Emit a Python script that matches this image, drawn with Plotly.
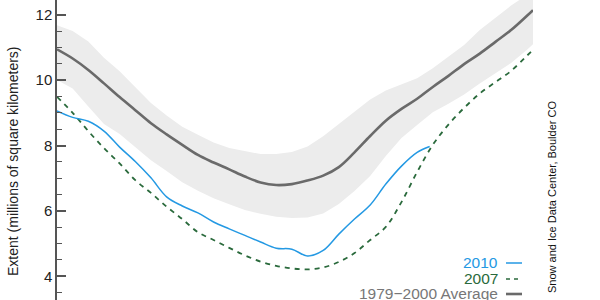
import plotly.graph_objects as go

# Days since July 1 (x positions)
days = [0, 5, 10, 15, 20, 25, 30, 35, 40, 45, 50, 55, 60, 65, 70, 75, 80, 85, 90,
        95, 100, 105, 110, 115, 120, 125, 130, 135, 140, 145, 150, 152]

# 1979-2000 average extent and its shaded range (millions of km²)
avg = [10.94, 10.66, 10.31, 9.90, 9.48, 9.08, 8.68, 8.34, 8.02, 7.71, 7.48, 7.27,
       7.05, 6.87, 6.79, 6.82, 6.93, 7.08, 7.34, 7.79, 8.29, 8.76, 9.12, 9.43,
       9.79, 10.13, 10.49, 10.81, 11.17, 11.53, 11.96, 12.14]
band_upper = [11.68, 11.50, 11.18, 10.68, 10.27, 9.79, 9.30, 8.92, 8.57, 8.33, 8.09,
              7.92, 7.83, 7.74, 7.74, 7.80, 7.97, 8.28, 8.66, 9.04, 9.41, 9.68, 9.87,
              10.06, 10.36, 10.71, 11.07, 11.53, 11.91, 12.28, 12.60, 12.72]
band_lower = [10.00, 9.74, 9.19, 8.66, 8.35, 7.96, 7.55, 7.22, 6.88, 6.62, 6.39, 6.20,
              6.03, 5.91, 5.82, 5.78, 5.80, 5.92, 6.21, 6.61, 7.07, 7.68, 8.23, 8.63,
              9.02, 9.28, 9.56, 9.90, 10.20, 10.52, 10.92, 11.10]

# 2007
y2007 = [9.49, 9.00, 8.44, 7.92, 7.45, 6.94, 6.55, 6.13, 5.75, 5.35, 5.11, 4.87,
         4.64, 4.45, 4.32, 4.24, 4.21, 4.27, 4.44, 4.71, 5.11, 5.51, 6.27, 7.19,
         8.02, 8.64, 9.15, 9.59, 9.94, 10.28, 10.74, 10.92]

# 2010 (ends late October)
days2010 = [0, 5, 10, 15, 20, 25, 30, 35, 40, 45, 50, 55, 60, 65, 70, 75, 80, 85,
            90, 95, 100, 105, 110, 115, 119]
y2010 = [9.06, 8.86, 8.74, 8.44, 7.95, 7.51, 7.01, 6.43, 6.15, 5.94, 5.66, 5.45,
         5.25, 5.05, 4.86, 4.83, 4.62, 4.79, 5.29, 5.75, 6.18, 6.82, 7.37, 7.79, 7.97]

y_ticks = [4, 6, 8, 10, 12]

BLUE = "#2499e3"
GREEN = "#2a6a3c"
GRAY = "#6a6a6a"
BAND = "#ececec"
FONT = "Liberation Sans, Arial, Helvetica, sans-serif"

fig = go.Figure()
fig.add_trace(go.Scatter(x=days, y=band_lower, mode="lines", line=dict(width=0, color=BAND),
                         showlegend=False, hoverinfo="skip"))
fig.add_trace(go.Scatter(x=days, y=band_upper, mode="lines", line=dict(width=0, color=BAND),
                         fill="tonexty", fillcolor=BAND, showlegend=False, hoverinfo="skip"))
fig.add_trace(go.Scatter(x=days, y=avg, mode="lines", line=dict(color=GRAY, width=2.6, shape="spline"),
                         name="1979-2000 Average"))
fig.add_trace(go.Scatter(x=days, y=y2007, mode="lines",
                         line=dict(color=GREEN, width=1.8, dash="5px,5px", shape="spline"),
                         name="2007"))
fig.add_trace(go.Scatter(x=days2010, y=y2010, mode="lines",
                         line=dict(color=BLUE, width=1.5, shape="spline"), name="2010"))

L, R = 57, 67
fig.update_layout(
    width=600, height=300,
    margin=dict(l=L, r=R, t=0, b=0),
    paper_bgcolor="white", plot_bgcolor="white",
    showlegend=False,
    font=dict(family=FONT, color="#222"),
    xaxis=dict(range=[0, 152], visible=False),
    yaxis=dict(range=[3.275, 12.45], tickvals=y_ticks, ticks="inside", ticklen=9,
               tickwidth=1.5, tickcolor="#555", showline=True, linecolor="#555",
               linewidth=1.5, showgrid=False, zeroline=False,
               tickfont=dict(size=15, color="#222", family=FONT),
               minor=dict(dtick=0.5, ticks="inside", ticklen=5, tickwidth=1.2,
                          tickcolor="#555", showgrid=False)),
)

PW = 600 - L - R  # plot width in px
def px_x(px):
    return (px - L) / PW
def px_y(py):
    return (300 - py) / 300

# Axis title
fig.add_annotation(text="Extent (millions of square kilometers)", textangle=-90,
                   xref="paper", yref="paper", x=px_x(13), y=px_y(161),
                   showarrow=False, xanchor="center", yanchor="middle",
                   font=dict(size=14, color="#222", family=FONT))
# Credit
fig.add_annotation(text="Snow and Ice Data Center, Boulder CO", textangle=-90,
                   xref="paper", yref="paper", x=px_x(552), y=px_y(197),
                   showarrow=False, xanchor="center", yanchor="middle",
                   font=dict(size=11, color="#111", family=FONT))

# Legend
legend_items = [("2010", BLUE, 262, "solid", 1.5),
                ("2007", GREEN, 278, "dash", 1.6),
                ("1979\u22122000 Average", "#777", 293, "solid", 2.6)]
for label, col, yc, dash, w in legend_items:
    fig.add_annotation(text=label, xref="paper", yref="paper", x=px_x(500), y=px_y(yc),
                       showarrow=False, xanchor="right", yanchor="middle",
                       font=dict(size=15.5, color=col, family=FONT))
    lc = GRAY if label.startswith("1979") else col
    fig.add_shape(type="line", xref="paper", yref="paper", x0=px_x(506), x1=px_x(522),
                  y0=px_y(yc + 1), y1=px_y(yc + 1),
                  line=dict(color=lc, width=w, dash="4px,4px" if dash == "dash" else "solid"))

fig.write_html("out.html")
